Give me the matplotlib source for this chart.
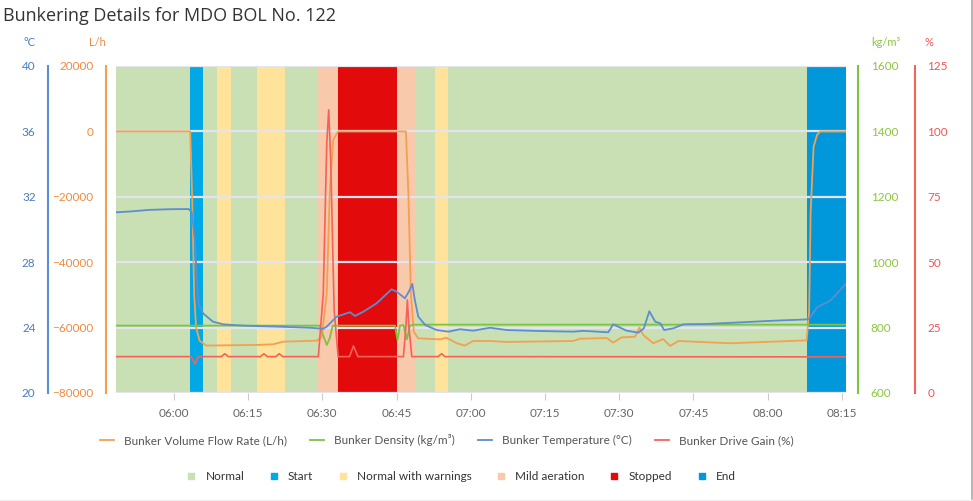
import matplotlib.pyplot as plt
from matplotlib.lines import Line2D

# time in minutes after 06:00
xlim = (-11.7, 135.8)
tick_pos = [0, 15, 30, 45, 60, 75, 90, 105, 120, 135]
tick_labels = ["06:00", "06:15", "06:30", "06:45", "07:00", "07:15",
               "07:30", "07:45", "08:00", "08:15"]

# state bands
band_start = [-11.7, 3.2, 5.8, 8.8, 11.5, 16.9, 22.5, 29.0, 33.1, 45.2, 48.8, 52.8, 55.4, 128.0]
band_end = [3.2, 5.8, 8.8, 11.5, 16.9, 22.5, 29.0, 33.1, 45.2, 48.8, 52.8, 55.4, 128.0, 135.8]
band_state = ["Normal", "Start", "Normal", "Normal with warnings", "Normal",
              "Normal with warnings", "Normal", "Mild aeration", "Stopped",
              "Mild aeration", "Normal", "Normal with warnings", "Normal", "End"]
state_names = ["Normal", "Start", "Normal with warnings", "Mild aeration", "Stopped", "End"]
state_colors = ["#c8e0b4", "#00a8e6", "#ffe39a", "#f8c9ab", "#e20a0a", "#0098da"]

# Bunker temperature (°C)
temp_t = [-11.7, -8.9, -4.9, -0.8, 3.0, 3.6, 4.25, 4.65, 5.06, 5.9, 7.9, 10.0, 14.0,
          20.8, 27.5, 30.2, 30.9, 32.9, 35.6, 36.6, 38.3, 41.0, 44.0, 45.0, 46.7,
          47.5, 48.2, 48.7, 49.4, 50.8, 53.1, 55.5, 57.8, 60.5, 63.9, 67.3, 74.0,
          80.7, 82.8, 87.8, 88.8, 91.5, 93.9, 95.0, 96.1, 97.3, 98.3, 99.1, 101.0,
          103.0, 107.7, 114.5, 121.2, 127.9, 128.5, 130.0, 132.7, 135.8]
temp_v = [31.05, 31.1, 31.2, 31.24, 31.25, 31.07, 29.35, 26.9, 25.4, 24.87, 24.36,
          24.2, 24.12, 24.06, 23.99, 23.93, 24.06, 24.67, 24.94, 24.71, 24.97, 25.49,
          26.34, 26.2, 25.79, 26.2, 26.67, 25.69, 24.67, 24.16, 23.85, 23.75, 23.9,
          23.81, 23.99, 23.85, 23.79, 23.75, 23.8, 23.71, 24.2, 23.81, 23.69, 23.96,
          25.0, 24.36, 24.26, 23.85, 23.96, 24.2, 24.22, 24.32, 24.42, 24.5, 24.57,
          25.24, 25.65, 26.67]

# Bunker volume flow rate (L/h)
flow_t = [-11.7, 3.3, 3.7, 4.1, 4.5, 5.2, 6.5, 17.0, 20.1, 22.1, 28.9, 29.9, 30.9,
          31.5, 32.2, 33.2, 46.9, 47.4, 47.9, 48.5, 49.4, 53.8, 55.1, 57.2, 58.8,
          60.5, 63.9, 67.3, 80.7, 82.1, 87.5, 88.8, 90.5, 93.2, 94.1, 94.9, 96.9,
          98.9, 100.3, 102.0, 112.4, 121.2, 127.9, 128.4, 128.7, 129.3, 130.0, 130.6,
          135.8]
flow_v = [0, 0, -20000, -50000, -60000, -64000, -65500, -65300, -65100, -64300,
          -64000, -62800, -49500, -18900, -2600, 0, 0, -18900, -49500, -61300,
          -63300, -63600, -63100, -64800, -65500, -64100, -64100, -64400, -64100,
          -63400, -63200, -64600, -63000, -62800, -60000, -62300, -64800, -63500,
          -65600, -64100, -64800, -64300, -63900, -55000, -25000, -4700, -1100, 0, 0]

# Bunker density (kg/m³)
dens_t = [-11.7, 29.5, 30.0, 30.9, 31.5, 32.1, 44.7, 45.2, 45.7, 46.4, 47.1, 47.7,
          48.4, 135.8]
dens_v = [806, 806, 783, 747, 767, 806, 806, 762, 806, 808, 764, 806, 809, 809]

# Bunker drive gain (%)
gain_t = [-11.7, 3.5, 4.25, 4.9, 9.6, 10.3, 11.0, 17.5, 18.2, 18.9, 20.6, 21.3, 22.0,
          29.2, 30.2, 30.9, 31.3, 31.7, 32.4, 33.2, 35.5, 36.3, 37.2, 46.4, 46.9,
          47.2, 47.5, 48.1, 53.4, 54.1, 54.8, 135.8]
gain_v = [13.9, 13.9, 11.1, 13.9, 13.9, 15.0, 13.9, 13.9, 15.0, 13.9, 13.9, 15.0,
          13.9, 13.9, 38.1, 95.4, 108.2, 89.1, 31.7, 13.9, 13.9, 18.0, 13.9, 13.9,
          25.3, 35.6, 25.3, 13.9, 13.9, 15.0, 13.9, 13.8]

c_temp, c_flow, c_dens, c_gain = "#5b8ed2", "#f5a050", "#7cc444", "#f4625a"
c_temp_t, c_flow_t, c_dens_t, c_gain_t = "#4a7cc0", "#f08a40", "#8cc63f", "#f05555"

plt.rcParams['font.family'] = ['Lato', 'DejaVu Sans']

fig = plt.figure(figsize=(9.73, 5.01), dpi=100)
ax = fig.add_axes([0.1192, 0.2156, 0.7500, 0.6527])
ax_flow = ax.twinx()
ax_dens = ax.twinx()
ax_gain = ax.twinx()

for s, e, st in zip(band_start, band_end, band_state):
    ax.axvspan(s, e, color=state_colors[state_names.index(st)], lw=0, zorder=0)

ax.set_xlim(*xlim)
ax.set_ylim(20, 40)
ax.set_yticks([20, 24, 28, 32, 36, 40])
ax.grid(axis='y', color='#e4e4ee', lw=1.6, zorder=1)
ax.set_axisbelow(False)
ax.set_xticks(tick_pos)
ax.set_xticklabels(tick_labels)
ax.tick_params(axis='x', length=5, color='#cccccc', labelcolor='#666666',
               labelsize=8.5, pad=6)

ax_flow.set_ylim(-80000, 20000)
ax_flow.set_yticks(range(-80000, 20001, 20000))
ax_dens.set_ylim(600, 1600)
ax_dens.set_yticks(range(600, 1601, 200))
ax_gain.set_ylim(0, 125)
ax_gain.set_yticks(range(0, 126, 25))

for a in (ax, ax_flow, ax_dens, ax_gain):
    for sp in a.spines.values():
        sp.set_visible(False)

def style_axis(a, side, pos, color, tcolor):
    a.yaxis.set_ticks_position(side)
    a.yaxis.set_label_position(side)
    sp = a.spines[side]
    sp.set_visible(True)
    sp.set_position(('axes', pos))
    sp.set_color(color)
    sp.set_linewidth(1.5)
    a.tick_params(axis='y', which='both', length=0, pad=9, labelsize=8.5,
                  labelcolor=tcolor, left=(side == 'left'), right=(side == 'right'),
                  labelleft=(side == 'left'), labelright=(side == 'right'))

style_axis(ax, 'left', -0.093, c_temp, c_temp_t)
style_axis(ax_flow, 'left', -0.0137, c_flow, c_flow_t)
style_axis(ax_dens, 'right', 1.0169, c_dens, c_dens_t)
style_axis(ax_gain, 'right', 1.095, c_gain, c_gain_t)

ax_flow.plot(flow_t, flow_v, color=c_flow, lw=1.3)
ax_dens.plot(dens_t, dens_v, color=c_dens, lw=1.3)
ax_gain.plot(gain_t, gain_v, color=c_gain, lw=1.2)
ax_gain.plot(temp_t, [(v - 20) * 125 / 20 for v in temp_v], color=c_temp, lw=1.3)

fig.text(0.003, 0.968, "Bunkering Details for MDO BOL No. 122", fontsize=13,
         color='#333333', va='center', family=['Open Sans', 'DejaVu Sans'])
fig.text(30 / 973, 1 - 43 / 501, "°C", color=c_temp_t, fontsize=8, ha='center', va='center')
fig.text(97 / 973, 1 - 43 / 501, "L/h", color=c_flow_t, fontsize=8, ha='center', va='center')
fig.text(886 / 973, 1 - 43 / 501, "kg/m³", color=c_dens_t, fontsize=8, ha='center', va='center')
fig.text(929 / 973, 1 - 43 / 501, "%", color=c_gain_t, fontsize=8, ha='center', va='center')

line_handles = [Line2D([], [], color=c, lw=1.3) for c in (c_flow, c_dens, c_temp, c_gain)]
line_labels = ["Bunker Volume Flow Rate (L/h)", "Bunker Density (kg/m³)",
               "Bunker Temperature (°C)", "Bunker Drive Gain (%)"]
leg1 = fig.legend(line_handles, line_labels, loc='center', bbox_to_anchor=(0.459, 1 - 440 / 501),
                  ncol=4, frameon=False, fontsize=8.5, handlelength=1.2,
                  columnspacing=2.0, labelcolor='#555555')

box_handles = [Line2D([], [], ls='', marker='s', ms=5, color=c) for c in state_colors]
leg2 = fig.legend(box_handles, state_names, loc='center', bbox_to_anchor=(0.474, 1 - 477 / 501),
                  ncol=6, frameon=False, fontsize=8.5, handlelength=0.8,
                  columnspacing=2.1, labelcolor='#333333')

# card border on the right and bottom
fig.add_artist(Line2D([0.9985, 0.9985], [0, 1], color='#aaaaaa', lw=1.2,
                      transform=fig.transFigure))
fig.add_artist(Line2D([0, 1], [0.001, 0.001], color='#eeeeee', lw=1,
                      transform=fig.transFigure))

fig.savefig("out.png", dpi=100)
